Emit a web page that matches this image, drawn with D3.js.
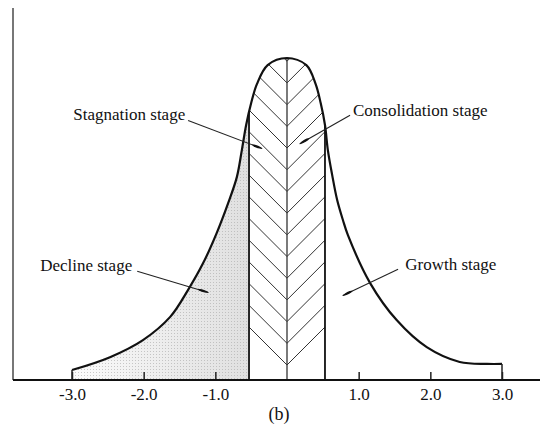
<!DOCTYPE html>
<html>
<head>
<meta charset="utf-8">
<script src="https://cdn.jsdelivr.net/npm/d3@7"></script>
<style>
  body { margin: 0; background: #fff; }
  svg { display: block; }
  text { font-family: "Liberation Serif", "Times New Roman", serif; fill: #111; }
</style>
</head>
<body>
<div id="chart"></div>
<script>
// tick values on the x axis
const xTicks = [-3, -2, -1, 1, 2, 3];

// the bell-shaped curve (x in axis units, height relative to peak)
const curveX = [-3.0, -2.47, -2.01, -1.63, -1.38, -1.17, -0.98, -0.82, -0.70, -0.63,
                -0.57, -0.50, -0.42, -0.27, 0.0, 0.27, 0.40, 0.47, 0.53, 0.57,
                0.63, 0.70, 0.78, 0.85, 1.16, 1.53, 1.95, 2.41, 2.79, 3.0];
const curveH = [0.031, 0.071, 0.124, 0.196, 0.280, 0.363, 0.457, 0.550, 0.630, 0.714,
                0.792, 0.860, 0.919, 0.978, 1.0, 0.978, 0.919, 0.860, 0.792, 0.714,
                0.637, 0.559, 0.497, 0.450, 0.301, 0.186, 0.102, 0.056, 0.050, 0.050];

// hatched middle band limits
const bandEdges = [-0.53, 0.53];

// stage labels
const stageNames = ['Stagnation stage', 'Consolidation stage', 'Decline stage', 'Growth stage'];

const width = 540, height = 428;
const baseY = 380;

const svg = d3.select('#chart').append('svg')
  .attr('width', width)
  .attr('height', height);

const x = d3.scaleLinear().domain([-3, 3]).range([72, 502]);
const y = d3.scaleLinear().domain([0, 1]).range([baseY, 58]);

const pts = curveX.map((v, i) => ({ v, h: curveH[i] }));

const area = d3.area()
  .x(d => x(d.v))
  .y0(y(0))
  .y1(d => y(d.h))
  .curve(d3.curveCatmullRom.alpha(0.5));

const line = d3.line()
  .x(d => x(d.v))
  .y(d => y(d.h))
  .curve(d3.curveCatmullRom.alpha(0.5));

const defs = svg.append('defs');

defs.append('clipPath').attr('id', 'under')
  .append('path').attr('d', area(pts));

// stipple for the decline region
const grad = defs.append('linearGradient').attr('id', 'shade')
  .attr('gradientUnits', 'userSpaceOnUse')
  .attr('x1', x(-3)).attr('x2', x(bandEdges[0]))
  .attr('y1', 0).attr('y2', 0);
grad.append('stop').attr('offset', 0).attr('stop-color', '#fbfbfb');
grad.append('stop').attr('offset', 1).attr('stop-color', '#e0e0e0');

const dots = defs.append('pattern').attr('id', 'dots')
  .attr('patternUnits', 'userSpaceOnUse')
  .attr('width', 3).attr('height', 3);
dots.append('rect').attr('width', 1).attr('height', 1).attr('fill', '#a8a8a8');

defs.append('marker').attr('id', 'head')
  .attr('viewBox', '0 -3 12 6')
  .attr('refX', 11).attr('refY', 0)
  .attr('markerUnits', 'userSpaceOnUse')
  .attr('markerWidth', 12).attr('markerHeight', 6)
  .attr('orient', 'auto')
  .append('path')
  .attr('d', 'M0,0 Q4,-2.6 12,0 Q4,2.6 0,0Z')
  .attr('fill', '#111');

const under = svg.append('g').attr('clip-path', 'url(#under)');

under.append('rect')
  .attr('x', x(-3)).attr('y', 0)
  .attr('width', x(bandEdges[0]) - x(-3)).attr('height', baseY)
  .attr('fill', 'url(#shade)');
under.append('rect')
  .attr('x', x(-3)).attr('y', 0)
  .attr('width', x(bandEdges[0]) - x(-3)).attr('height', baseY)
  .attr('fill', 'url(#dots)')
  .attr('opacity', 0.6);

// chevron hatching in the middle band
const cx = x(0), half = x(bandEdges[1]) - x(0);
const hatch = under.append('g')
  .attr('stroke', '#333').attr('stroke-width', 1).attr('fill', 'none');
for (let yj = baseY - 15; yj > 40; yj -= 21.7) {
  hatch.append('path')
    .attr('d', `M${cx - half},${yj - half}L${cx},${yj}L${cx + half},${yj - half}`);
}
hatch.append('line')
  .attr('x1', cx).attr('x2', cx).attr('y1', baseY).attr('y2', 0)
  .attr('stroke-width', 1.3);

// band edges
under.selectAll('.edge')
  .data(bandEdges)
  .enter().append('line')
  .attr('class', 'edge')
  .attr('x1', d => x(d)).attr('x2', d => x(d))
  .attr('y1', baseY).attr('y2', 0)
  .attr('stroke', '#111').attr('stroke-width', 1.8);

// the curve
svg.append('path')
  .attr('d', line(pts))
  .attr('fill', 'none')
  .attr('stroke', '#111')
  .attr('stroke-width', 2.2);

// end lines of the curve down to the axis
svg.selectAll('.end')
  .data([pts[0], pts[pts.length - 1]])
  .enter().append('line')
  .attr('class', 'end')
  .attr('x1', d => x(d.v)).attr('x2', d => x(d.v))
  .attr('y1', baseY).attr('y2', d => y(d.h))
  .attr('stroke', '#222').attr('stroke-width', 1.5);

// axes
svg.append('line')
  .attr('x1', 13).attr('x2', 13).attr('y1', 8).attr('y2', baseY)
  .attr('stroke', '#555').attr('stroke-width', 1.6);

const xAxis = svg.append('g')
  .attr('transform', `translate(0,${baseY})`)
  .call(d3.axisBottom(x)
    .tickValues(xTicks)
    .tickSizeInner(-8).tickSizeOuter(0)
    .tickPadding(8)
    .tickFormat(d => d.toFixed(1)));
xAxis.select('.domain').remove();
xAxis.selectAll('.tick line').attr('stroke', '#222').attr('stroke-width', 1.5);
xAxis.selectAll('.tick text')
  .style('font-family', '"Liberation Serif", "Times New Roman", serif')
  .style('font-size', '17px')
  .attr('fill', '#111');

svg.append('line')
  .attr('x1', 13).attr('x2', width).attr('y1', baseY).attr('y2', baseY)
  .attr('stroke', '#111').attr('stroke-width', 2);

svg.append('text')
  .attr('x', x(0) - 8).attr('y', 420)
  .attr('text-anchor', 'middle')
  .style('font-size', '18px')
  .text('(b)');

// annotations, anchored in axis units
const notes = [
  { name: stageNames[0], tx: -1.42, th: 0.809, anchor: 'end',   from: [-1.38, 0.806], to: [-0.35, 0.719] },
  { name: stageNames[1], tx: 0.92,  th: 0.819, anchor: 'start', from: [0.88, 0.822],  to: [0.18, 0.734] },
  { name: stageNames[2], tx: -2.16, th: 0.3375, anchor: 'end',  from: [-2.09, 0.3375], to: [-1.10, 0.272] },
  { name: stageNames[3], tx: 1.65,  th: 0.341, anchor: 'start', from: [1.55, 0.344],  to: [0.78, 0.2625] }
];

const ann = svg.append('g');
ann.selectAll('line')
  .data(notes)
  .enter().append('line')
  .attr('x1', d => x(d.from[0])).attr('y1', d => y(d.from[1]))
  .attr('x2', d => x(d.to[0])).attr('y2', d => y(d.to[1]))
  .attr('stroke', '#222').attr('stroke-width', 1.1)
  .attr('marker-end', 'url(#head)');
ann.selectAll('text')
  .data(notes)
  .enter().append('text')
  .attr('x', d => x(d.tx)).attr('y', d => y(d.th))
  .attr('text-anchor', d => d.anchor)
  .style('font-size', '17px')
  .text(d => d.name);
</script>
</body>
</html>
